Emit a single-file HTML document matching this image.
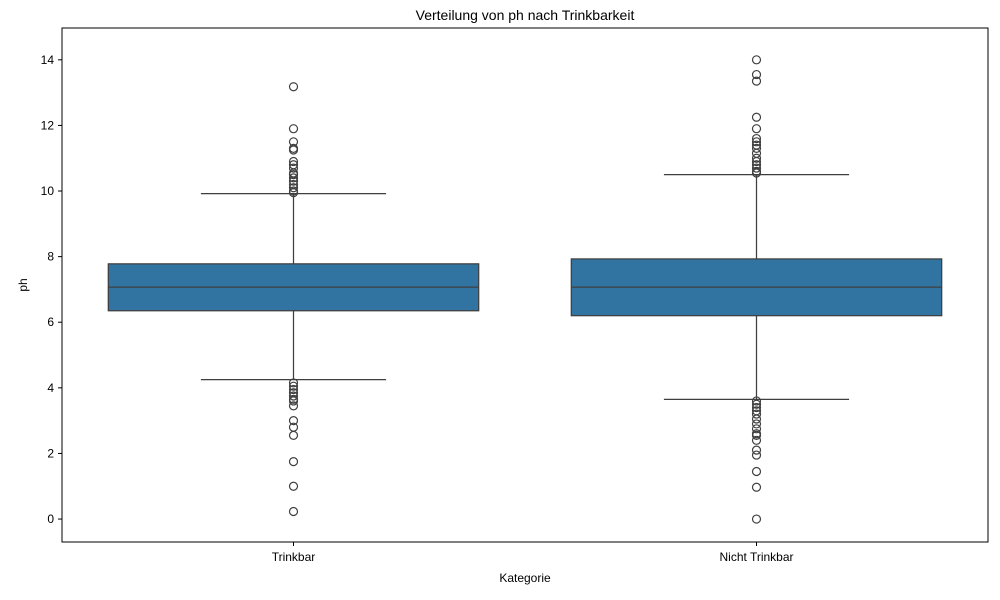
<!DOCTYPE html>
<html><head><meta charset="utf-8"><style>body{margin:0;background:#fff}svg{display:block;font-family:"Liberation Sans",sans-serif}</style></head>
<body>
<svg id="chart" width="1000" height="600"></svg>
<script>
const categories=["Trinkbar","Nicht Trinkbar"];
const q1=[6.35,6.2];
const medians=[7.07,7.07];
const q3=[7.78,7.93];
const whiskLow=[4.25,3.65];
const whiskHigh=[9.92,10.5];
const outliersTrinkbar=[13.18,11.9,11.5,11.3,11.25,10.9,10.8,10.7,10.55,10.5,10.4,10.3,10.2,10.1,10.0,9.95,4.15,4.05,3.95,3.85,3.75,3.65,3.6,3.45,3.0,2.8,2.55,1.75,1.0,0.23];
const outliersNicht=[14.0,13.55,13.35,12.25,11.9,11.6,11.5,11.4,11.3,11.15,11.0,10.9,10.8,10.7,10.6,10.55,3.6,3.5,3.4,3.3,3.2,3.05,2.9,2.75,2.6,2.55,2.4,2.1,1.95,1.45,0.97,0.0];
const yTicks=[0,2,4,6,8,10,12,14];
const outliers=[outliersTrinkbar,outliersNicht];

const NS="http://www.w3.org/2000/svg";
const svg=document.getElementById('chart');
const L=62,R=988,T=28,B=542,yMin=-0.7,yMax=14.97;
const y=v=>B-(v-yMin)/(yMax-yMin)*(B-T);
const band=(R-L)/categories.length;
const x=i=>L+band*(i+0.5);
function el(tag,attrs,text){const e=document.createElementNS(NS,tag);for(const k in attrs)e.setAttribute(k,attrs[k]);if(text!==undefined)e.textContent=text;svg.appendChild(e);return e;}
const c="#3f3f3f";
categories.forEach((cat,i)=>{
  const cx=x(i),bw=band*0.8,cw=band*0.4;
  let e=el('line',{x1:cx,x2:cx,y1:y(whiskHigh[i]),y2:y(q3[i]),stroke:c,'stroke-width':1.25});
  
  e=el('line',{x1:cx,x2:cx,y1:y(q1[i]),y2:y(whiskLow[i]),stroke:c,'stroke-width':1.25});
  
  e=el('line',{x1:cx-cw/2,x2:cx+cw/2,y1:y(whiskHigh[i]),y2:y(whiskHigh[i]),stroke:c,'stroke-width':1.25});
  
  e=el('line',{x1:cx-cw/2,x2:cx+cw/2,y1:y(whiskLow[i]),y2:y(whiskLow[i]),stroke:c,'stroke-width':1.25});
  
  e=el('rect',{x:cx-bw/2,y:y(q3[i]),width:bw,height:y(q1[i])-y(q3[i]),fill:'#3274a1',stroke:c,'stroke-width':1.25});
  
  e=el('line',{x1:cx-bw/2,x2:cx+bw/2,y1:y(medians[i]),y2:y(medians[i]),stroke:c,'stroke-width':1.25});
  
  outliers[i].forEach(v=>{
    const o=el('circle',{cx:cx,cy:y(v),r:4,fill:'none',stroke:c,'stroke-width':1.2});
    
  });
  e=el('line',{x1:cx,x2:cx,y1:B,y2:B+4,stroke:'#000'});
  
  e=el('text',{x:cx,y:B+19,'text-anchor':'middle','font-size':12},cat);
  
});
yTicks.forEach(t=>{
  let e=el('line',{x1:L-4,x2:L,y1:y(t),y2:y(t),stroke:'#000'});
  
  e=el('text',{x:L-8,y:y(t)+4,'text-anchor':'end','font-size':12},t);
  
});
let f=el('rect',{x:L,y:T,width:R-L,height:B-T,fill:'none',stroke:'#000','stroke-width':1});

f=el('text',{x:(L+R)/2,y:20,'text-anchor':'middle','font-size':14},'Verteilung von ph nach Trinkbarkeit');

f=el('text',{x:(L+R)/2,y:582,'text-anchor':'middle','font-size':12},'Kategorie');

f=el('text',{x:0,y:0,'text-anchor':'middle','font-size':12,transform:'translate(27,'+((T+B)/2)+') rotate(-90)'},'ph');

</script>
</body></html>
